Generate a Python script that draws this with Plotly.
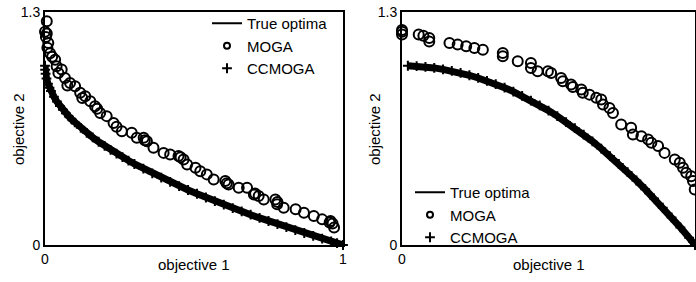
import plotly.graph_objects as go

# ---------------- data ----------------
# Left panel (convex front)
true_x_left = [0, 0.0005, 0.002, 0.005, 0.01, 0.015, 0.02, 0.03, 0.04, 0.05, 0.06, 0.07, 0.08, 0.09,
               0.10, 0.12, 0.14, 0.16, 0.18, 0.20, 0.22, 0.24, 0.26, 0.28, 0.30, 0.33, 0.36, 0.39,
               0.42, 0.45, 0.48, 0.51, 0.54, 0.57, 0.60, 0.63, 0.66, 0.69, 0.72, 0.75, 0.78, 0.81,
               0.84, 0.87, 0.90, 0.93, 0.96, 0.98, 1.0]
true_y_left = [1.000, 0.978, 0.955, 0.929, 0.900, 0.878, 0.859, 0.827, 0.800, 0.776, 0.755, 0.735,
               0.717, 0.700, 0.684, 0.654, 0.626, 0.600, 0.576, 0.553, 0.531, 0.510, 0.490, 0.471,
               0.452, 0.426, 0.400, 0.376, 0.352, 0.329, 0.307, 0.286, 0.265, 0.245, 0.225, 0.206,
               0.188, 0.169, 0.151, 0.134, 0.117, 0.100, 0.083, 0.067, 0.051, 0.036, 0.020, 0.010, 0.0]
ccmoga_x_left = list(true_x_left)
ccmoga_y_left = list(true_y_left)
moga_x_left = [0.006, 0.0, 0.006, 0.011, 0.017, 0.034, 0.039, 0.056, 0.067, 0.084, 0.101, 0.118,
               0.135, 0.152, 0.168, 0.185, 0.207, 0.230, 0.258, 0.291, 0.308, 0.331, 0.342, 0.364,
               0.398, 0.420, 0.448, 0.465, 0.477, 0.505, 0.521, 0.543, 0.566, 0.605, 0.616, 0.650,
               0.678, 0.701, 0.717, 0.734, 0.773, 0.779, 0.801, 0.841, 0.869, 0.902, 0.930, 0.958,
               0.970, 0.965, 0.003, 0.008, 0.024, 0.045, 0.075, 0.125, 0.175, 0.240, 0.335, 0.455,
               0.610, 0.705, 0.780, 0.955]
moga_y_left = [1.248, 1.190, 1.180, 1.127, 1.070, 1.034, 0.997, 0.979, 0.932, 0.904, 0.886, 0.849,
               0.830, 0.802, 0.774, 0.737, 0.719, 0.681, 0.635, 0.626, 0.598, 0.598, 0.579, 0.542,
               0.514, 0.505, 0.496, 0.477, 0.449, 0.431, 0.412, 0.394, 0.366, 0.357, 0.338, 0.319,
               0.319, 0.282, 0.273, 0.254, 0.254, 0.227, 0.208, 0.199, 0.180, 0.162, 0.143, 0.134,
               0.097, 0.120, 1.160, 1.100, 1.050, 0.960, 0.890, 0.820, 0.760, 0.660, 0.585, 0.490,
               0.345, 0.288, 0.240, 0.125]

# Right panel (concave front)
true_x_right = [0.02, 0.05, 0.08, 0.11, 0.14, 0.17, 0.20, 0.23, 0.26, 0.29, 0.32, 0.35, 0.38, 0.41,
                0.44, 0.47, 0.50, 0.53, 0.56, 0.59, 0.62, 0.65, 0.68, 0.71, 0.74, 0.77, 0.80, 0.83,
                0.86, 0.89, 0.92, 0.95, 0.98, 1.0]
true_y_right = [1.000, 0.998, 0.994, 0.988, 0.980, 0.971, 0.960, 0.947, 0.932, 0.916, 0.898, 0.878,
                0.856, 0.832, 0.806, 0.779, 0.750, 0.719, 0.686, 0.652, 0.616, 0.578, 0.538, 0.496,
                0.452, 0.407, 0.360, 0.311, 0.260, 0.208, 0.154, 0.098, 0.040, 0.0]
ccmoga_x_right = list(true_x_right)
ccmoga_y_right = list(true_y_right)
moga_x_right = [0.0, 0.0, 0.0, 0.057, 0.073, 0.093, 0.093, 0.162, 0.190, 0.219, 0.247, 0.276,
                0.344, 0.344, 0.395, 0.440, 0.440, 0.463, 0.498, 0.509, 0.543, 0.549, 0.577, 0.583,
                0.612, 0.617, 0.640, 0.663, 0.680, 0.686, 0.708, 0.720, 0.748, 0.782, 0.788, 0.817,
                0.840, 0.851, 0.874, 0.896, 0.931, 0.948, 0.959, 0.970, 0.987, 0.993, 0.999]
moga_y_right = [1.175, 1.190, 1.200, 1.174, 1.168, 1.155, 1.136, 1.127, 1.118, 1.109, 1.099, 1.090,
                1.071, 1.053, 1.025, 1.016, 0.988, 0.969, 0.969, 0.960, 0.932, 0.914, 0.895, 0.882,
                0.867, 0.849, 0.839, 0.821, 0.812, 0.784, 0.765, 0.737, 0.672, 0.654, 0.617, 0.607,
                0.589, 0.570, 0.552, 0.514, 0.477, 0.459, 0.431, 0.403, 0.384, 0.357, 0.310]

x_tickvals = [0, 1]
x_ticktext = ["0", "1"]
y_tickvals = [0, 1.3]
y_ticktext = ["0", "1.3"]

# ---------------- figure ----------------
W, H = 696, 282
FONT = "Liberation Sans, Arial, sans-serif"

def px_x(p):
    return p / W

def px_y(p):
    return (H - p) / H

fig = go.Figure()

panels = [
    ("x", "y", "legend", true_x_left, true_y_left, moga_x_left, moga_y_left, ccmoga_x_left, ccmoga_y_left),
    ("x2", "y2", "legend2", true_x_right, true_y_right, moga_x_right, moga_y_right, ccmoga_x_right, ccmoga_y_right),
]
for xa, ya, lg, tx, ty, mx, my, cx, cy in panels:
    # plotted marks (legend entries drawn separately with legend-sized symbols)
    fig.add_trace(go.Scatter(x=tx, y=ty, mode="lines", name="True optima", showlegend=False,
                             line=dict(color="black", width=7), xaxis=xa, yaxis=ya,
                             cliponaxis=False, hoverinfo="skip"))
    fig.add_trace(go.Scatter(x=mx, y=my, mode="markers", name="MOGA", showlegend=False,
                             marker=dict(symbol="circle-open", size=10, color="black",
                                         line=dict(width=2, color="black")),
                             xaxis=xa, yaxis=ya, cliponaxis=False))
    fig.add_trace(go.Scatter(x=cx, y=cy, mode="markers", name="CCMOGA", showlegend=False,
                             marker=dict(symbol="cross-thin-open", size=7, color="black",
                                         line=dict(width=2, color="black")),
                             xaxis=xa, yaxis=ya, cliponaxis=False))
    # legend entries
    fig.add_trace(go.Scatter(x=[None], y=[None], mode="lines", name="True optima",
                             line=dict(color="black", width=2), xaxis=xa, yaxis=ya, legend=lg))
    fig.add_trace(go.Scatter(x=[None], y=[None], mode="markers", name="MOGA",
                             marker=dict(symbol="circle-open", size=6, color="black",
                                         line=dict(width=2, color="black")),
                             xaxis=xa, yaxis=ya, legend=lg))
    fig.add_trace(go.Scatter(x=[None], y=[None], mode="markers", name="CCMOGA",
                             marker=dict(symbol="cross-thin-open", size=7, color="black",
                                         line=dict(width=2, color="black")),
                             xaxis=xa, yaxis=ya, legend=lg))

axis_common = dict(showline=True, linewidth=2, linecolor="black", mirror=True,
                   showgrid=False, zeroline=False, ticks="", layer="below traces",
                   automargin=False,
                   tickfont=dict(family=FONT, size=14, color="black"))

legend_common = dict(xanchor="left", yanchor="top", bgcolor="rgba(0,0,0,0)",
                     font=dict(family=FONT, size=15, color="black"),
                     tracegroupgap=0, itemwidth=30)

fig.update_layout(
    width=W, height=H,
    margin=dict(l=0, r=0, t=0, b=0, pad=0, autoexpand=False),
    paper_bgcolor="white", plot_bgcolor="white",
    font=dict(family=FONT, color="black"),
    xaxis=dict(domain=[px_x(45), px_x(343)], range=[0, 1], anchor="y",
               tickvals=x_tickvals, ticktext=x_ticktext, **axis_common),
    yaxis=dict(domain=[px_y(245), px_y(12)], range=[0, 1.3], anchor="x",
               tickvals=y_tickvals, ticktext=y_ticktext, **axis_common),
    xaxis2=dict(domain=[px_x(402), px_x(695)], range=[0, 1], anchor="y2",
                tickvals=x_tickvals, ticktext=x_ticktext, **axis_common),
    yaxis2=dict(domain=[px_y(245), px_y(12)], range=[0, 1.3], anchor="x2",
                tickvals=y_tickvals, ticktext=y_ticktext, **axis_common),
    legend=dict(x=px_x(207), y=px_y(7), **legend_common),
    legend2=dict(x=px_x(410), y=px_y(176), **legend_common),
    showlegend=True,
)

for cx_px in (194, 549):
    fig.add_annotation(x=px_x(cx_px), y=px_y(264), xref="paper", yref="paper",
                       xanchor="center", yanchor="middle",
                       text="objective 1", showarrow=False,
                       font=dict(family=FONT, size=15, color="black"))
for cx_px in (18, 374):
    fig.add_annotation(x=px_x(cx_px), y=px_y(129), xref="paper", yref="paper",
                       xanchor="center", yanchor="middle",
                       text="objective 2", showarrow=False, textangle=-90,
                       font=dict(family=FONT, size=15, color="black"))

# remove the default page margin so the figure fills the window exactly
fig.write_html("out.html",
               config={"displayModeBar": False},
               post_script="document.body.style.margin='0px';document.body.style.overflow='hidden';")
